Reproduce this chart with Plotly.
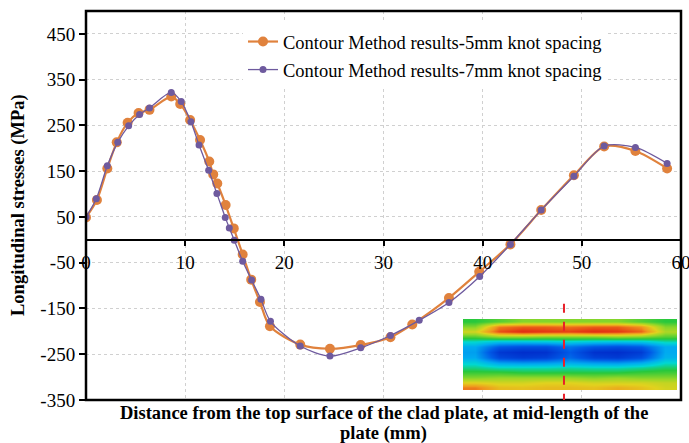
import plotly.graph_objects as go

# ---- data ----
x_5mm = [0, 1.1, 2.15, 3.1, 4.2, 5.3, 6.4, 8.6, 9.5, 10.5, 11.5, 12.43, 12.83, 13.24, 14.08,
         14.9, 15.8, 16.66, 17.54, 18.55, 21.6, 24.6, 27.7, 30.7, 32.9, 36.6, 39.65, 42.8,
         45.9, 49.2, 52.25, 55.4, 58.6]
y_5mm = [49, 87, 156, 213, 256, 277, 284, 313, 297, 262, 218, 171, 143, 123, 76,
         25, -32, -87, -136, -189, -229, -238, -230, -213, -185, -127, -70, -10,
         65, 141, 204, 194, 156]

x_7mm = [0, 1.04, 2.15, 3.2, 4.3, 5.4, 6.4, 8.6, 9.6, 10.58, 11.4, 12.37, 13.2, 14.04,
         14.45, 14.95, 15.8, 16.7, 17.64, 18.6, 21.6, 24.6, 27.7, 30.7, 33.6, 36.6, 39.7,
         42.8, 45.9, 49.2, 52.25, 55.4, 58.6]
y_7mm = [50, 90, 162, 213, 249, 274, 288, 322, 302, 258, 207, 152, 101, 49,
         26, -1, -47, -88, -130, -178, -232, -254, -236, -209, -176, -137, -80,
         -10, 65, 139, 205, 202, 167]

name_5mm = "Contour Method results-5mm knot spacing"
name_7mm = "Contour Method results-7mm knot spacing"

x_ticks = [0, 10, 20, 30, 40, 50, 60]
y_ticks = [-350, -250, -150, -50, 50, 150, 250, 350, 450]
y_ticktext = ["-350", "-250", "-150", "-50", "50", "150", "250", "350", "450"]

x_title_1 = "Distance from the top surface of the clad plate, at mid-length of the"
x_title_2 = "plate (mm)"
y_title = "Longitudinal stresses (MPa)"

# inset contour map (normalised stress level, rows top -> bottom)
inset_levels = [
    [0.50, 0.55, 0.60, 0.60, 0.60, 0.60, 0.60, 0.55, 0.50],
    [0.60, 0.85, 0.88, 0.88, 0.86, 0.88, 0.88, 0.82, 0.60],
    [0.70, 0.90, 0.95, 0.93, 0.92, 0.95, 0.93, 0.88, 0.65],
    [0.55, 0.62, 0.62, 0.60, 0.60, 0.60, 0.62, 0.60, 0.55],
    [0.40, 0.35, 0.35, 0.36, 0.38, 0.36, 0.35, 0.36, 0.42],
    [0.30, 0.15, 0.12, 0.12, 0.20, 0.14, 0.12, 0.15, 0.30],
    [0.28, 0.05, 0.02, 0.03, 0.15, 0.03, 0.02, 0.06, 0.30],
    [0.30, 0.10, 0.06, 0.08, 0.18, 0.08, 0.06, 0.12, 0.32],
    [0.38, 0.28, 0.26, 0.27, 0.30, 0.27, 0.26, 0.30, 0.40],
    [0.45, 0.42, 0.42, 0.42, 0.43, 0.42, 0.42, 0.44, 0.47],
    [0.52, 0.52, 0.50, 0.50, 0.50, 0.50, 0.50, 0.52, 0.53],
    [0.60, 0.62, 0.62, 0.62, 0.62, 0.60, 0.62, 0.60, 0.60],
    [0.72, 0.70, 0.70, 0.72, 0.72, 0.70, 0.70, 0.70, 0.68],
    [0.85, 0.76, 0.75, 0.76, 0.76, 0.75, 0.78, 0.75, 0.70],
]
section_x = 48.2

ORANGE = "#E0823D"
PURPLE = "#6E5A9E"
FONT = "Liberation Serif"

fig = go.Figure()

fig.add_trace(go.Scatter(
    x=x_5mm, y=y_5mm, name=name_5mm, mode="lines+markers",
    line=dict(color=ORANGE, width=2.2, shape="spline", smoothing=0.8),
    marker=dict(color=ORANGE, size=10), legendgroup="a"))
fig.add_trace(go.Scatter(
    x=x_7mm, y=y_7mm, name=name_7mm, mode="lines+markers",
    line=dict(color=PURPLE, width=1.3, shape="spline", smoothing=0.8),
    marker=dict(color=PURPLE, size=7), legendgroup="b"))

fig.add_trace(go.Heatmap(
    z=inset_levels, xaxis="x2", yaxis="y2", zsmooth="best", showscale=False,
    zmin=0, zmax=1, hoverinfo="skip",
    colorscale=[[0, "rgb(0,40,200)"], [0.15, "rgb(0,90,230)"], [0.3, "rgb(0,170,240)"],
                [0.4, "rgb(0,215,210)"], [0.5, "rgb(40,200,60)"], [0.62, "rgb(150,215,40)"],
                [0.72, "rgb(225,210,30)"], [0.82, "rgb(240,150,30)"], [0.92, "rgb(230,60,20)"],
                [1, "rgb(210,20,20)"]]))

W, H = 689, 443
L, R, T, B = 86, 8, 11, 43
pw, ph = W - L - R, H - T - B

def px_x(p):
    return (p - L) / pw

def px_y(p):
    return (H - B - p) / ph

fig.update_layout(
    width=W, height=H,
    margin=dict(l=L, r=R, t=T, b=B, autoexpand=False),
    paper_bgcolor="white", plot_bgcolor="white",
    font=dict(family=FONT, color="black"),
    showlegend=True,
    legend=dict(x=px_x(243), y=px_y(23), xanchor="left", yanchor="top",
                bgcolor="white", font=dict(family=FONT, size=18.5, color="black"),
                tracegroupgap=1),
    xaxis=dict(range=[0, 60], tickvals=x_ticks, ticktext=[str(v) for v in x_ticks],
               anchor="free", position=350 / 850, ticklabeloverflow="allow",
               automargin=False,
               showline=True, linecolor="black", linewidth=2,
               ticks="outside", ticklen=5, tickwidth=1.5, tickcolor="black",
               tickfont=dict(family=FONT, size=19, color="black"),
               showgrid=True, gridcolor="#d0d0d0", griddash="dot", gridwidth=1,
               zeroline=False),
    yaxis=dict(range=[-350, 500], tickvals=y_ticks, ticktext=y_ticktext,
               automargin=False,
               showline=False, ticks="outside", ticklen=6, tickwidth=1.5, tickcolor="black",
               tickfont=dict(family=FONT, size=19, color="black"),
               showgrid=True, gridcolor="#d0d0d0", griddash="dot", gridwidth=1,
               zeroline=False),
    xaxis2=dict(domain=[px_x(463), px_x(677)], anchor="y2", visible=False,
                range=[-0.5, 8.5]),
    yaxis2=dict(domain=[px_y(390), px_y(319)], anchor="x2", visible=False,
                autorange="reversed"),
    shapes=[
        dict(type="rect", xref="paper", yref="paper", x0=0, x1=1, y0=0, y1=1,
             line=dict(color="black", width=2.5), layer="above"),
        dict(type="line", xref="x", yref="y", x0=section_x, x1=section_x, y0=-356, y1=-139,
             line=dict(color="#E8202A", width=2, dash="dash"), layer="above"),
    ],
    annotations=[
        dict(text="<b>" + x_title_1 + "</b>",
             xref="paper", yref="paper", x=0.5, y=px_y(413), xanchor="center", yanchor="middle",
             showarrow=False, font=dict(family=FONT, size=18.5, color="black")),
        dict(text="<b>" + x_title_2 + "</b>",
             xref="paper", yref="paper", x=0.5, y=px_y(433), xanchor="center", yanchor="middle",
             showarrow=False, font=dict(family=FONT, size=18.5, color="black")),
        dict(text="<b>" + y_title + "</b>", xref="paper", yref="paper",
             x=px_x(18), y=px_y(205), xanchor="center", yanchor="middle",
             textangle=-90, showarrow=False,
             font=dict(family=FONT, size=18.5, color="black")),
    ],
)

fig.write_html("out.html")
